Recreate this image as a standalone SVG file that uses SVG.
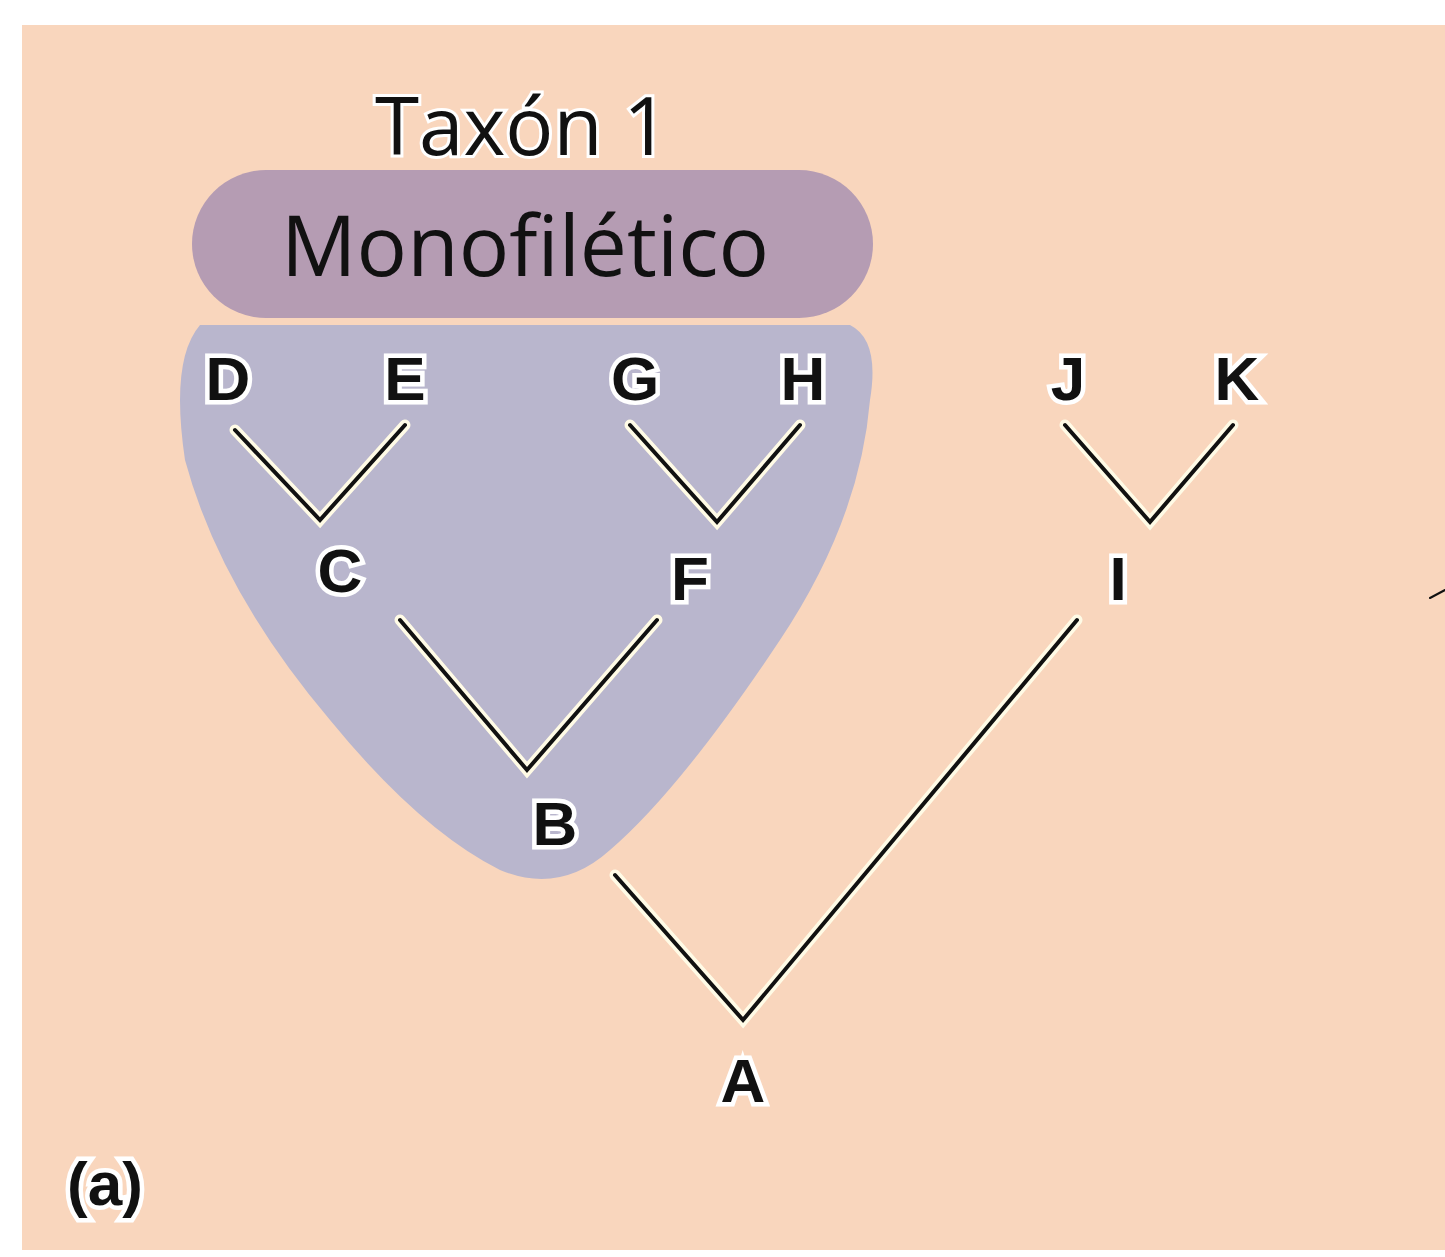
<svg xmlns="http://www.w3.org/2000/svg" width="1445" height="1257" viewBox="0 0 1445 1257">
<style>
.lbl{font-family:"Liberation Sans",Arial,sans-serif;font-weight:bold;font-size:62px;fill:#111;stroke:#fff;stroke-width:9px;paint-order:stroke;text-anchor:middle}
.ln{stroke:#111;stroke-width:4;fill:none;stroke-linecap:round}
.halo{stroke:#fffbe6;stroke-width:11;fill:none;stroke-linecap:round}
</style>
<rect width="1445" height="1257" fill="#fff"/>
<rect x="22" y="25" width="1430" height="1225" fill="#f9d6bd"/>
<g id="clade">
<path d="M200,325 L850,325 Q880,340 870,400 Q860,520 780,640 Q680,790 610,850 Q560,895 500,870 Q420,830 330,720 Q220,590 185,460 Q170,360 200,325 Z" fill="#b9b6cd"/>
</g>
<g id="pill">
<rect x="192" y="170" width="681" height="148" rx="74" fill="#b59cb3"/>
<text x="525" y="276" font-family="'Open Sans','Noto Sans',sans-serif" font-size="84" text-anchor="middle" fill="#111">Monofilético</text>
</g>
<g id="title"><text x="522" y="155" font-family="'Open Sans','Noto Sans',sans-serif" font-size="80" text-anchor="middle" fill="#111" stroke="#fff" stroke-width="6" paint-order="stroke">Taxón 1</text></g>
<g id="connectors">
<g class="halo">
<path d="M235,430 L320,520 L405,425 M630,425 L717,522 L800,425 M1065,425 L1150,522 L1233,425 M400,620 L527,770 L657,620 M615,875 L743,1020 L1077,620"/>
</g>
<g class="ln">
<path d="M235,430 L320,520 L405,425 M630,425 L717,522 L800,425 M1065,425 L1150,522 L1233,425 M400,620 L527,770 L657,620 M615,875 L743,1020 L1077,620"/>
<path d="M1430,598 L1445,590" stroke-width="2"/>
</g>
</g>
<g id="nD"><text class="lbl" x="228" y="400">D</text></g>
<g id="nE"><text class="lbl" x="405" y="400">E</text></g>
<g id="nG"><text class="lbl" x="635" y="400">G</text></g>
<g id="nH"><text class="lbl" x="803" y="400">H</text></g>
<g id="nJ"><text class="lbl" x="1068" y="400">J</text></g>
<g id="nK"><text class="lbl" x="1237" y="400">K</text></g>
<g id="nC"><text class="lbl" x="340" y="592">C</text></g>
<g id="nF"><text class="lbl" x="690" y="600">F</text></g>
<g id="nI"><text class="lbl" x="1118" y="600">I</text></g>
<g id="nB"><text class="lbl" x="555" y="845">B</text></g>
<g id="nA"><text class="lbl" x="743" y="1102">A</text></g>
<g id="label"><text class="lbl" x="105" y="1205">(a)</text></g>
</svg>
